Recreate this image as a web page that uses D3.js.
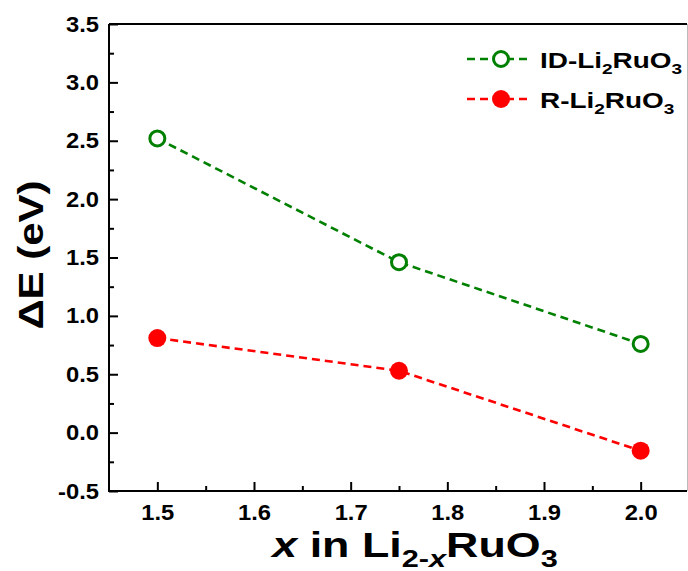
<!DOCTYPE html>
<html><head><meta charset="utf-8">
<script src="https://cdn.jsdelivr.net/npm/d3@7/dist/d3.min.js"></script>
<style>body{margin:0;background:#fff}svg{display:block}text{font-family:"Liberation Sans",Arial,sans-serif;font-weight:bold;fill:#000}</style>
</head><body><svg id="c" width="688" height="571"></svg>
<script>
const xValues = [1.5, 1.75, 2.0];
const idValues = [2.52, 1.46, 0.76];
const rValues = [0.81, 0.53, -0.155];
const xTicks = [1.5, 1.6, 1.7, 1.8, 1.9, 2.0];
const yTicks = [-0.5, 0.0, 0.5, 1.0, 1.5, 2.0, 2.5, 3.0, 3.5];
const seriesNames = ["ID-Li", "R-Li"];

const svg = d3.select("#c");
const L = 109, R = 689, T = 24, B = 491;
const x = d3.scaleLinear().domain([1.45, 2.05]).range([L, R]);
const y = d3.scaleLinear().domain([-0.5, 3.5]).range([B, T]);
const SX = 1.08; // horizontal glyph stretch of the reference font

// frame
svg.append("path").attr("d", `M${L},${T}H687M${L},${T}V${B}H687`).attr("fill","none").attr("stroke","#000").attr("stroke-width",2);
svg.append("line").attr("x1",687.5).attr("x2",687.5).attr("y1",T).attr("y2",B).attr("stroke","#bbb").attr("stroke-width",1);

const xMinor = [1.55, 1.65, 1.75, 1.85, 1.95];
const yMinor = [-0.25, 0.25, 0.75, 1.25, 1.75, 2.25, 2.75, 3.25];

const xAxis = svg.append("g").attr("transform",`translate(0,${B})`)
  .call(d3.axisBottom(x).tickValues(xTicks).tickFormat(d3.format(".1f")).tickSize(-9).tickPadding(13));
xAxis.select(".domain").remove();
xAxis.selectAll("line").attr("stroke-width",2);
xAxis.selectAll("text").attr("font-size",22).attr("font-family","Liberation Sans").attr("font-weight","bold").attr("fill","#000")
  .attr("transform",`scale(${SX},1)`);
svg.append("g").attr("transform",`translate(0,${B})`)
  .call(d3.axisBottom(x).tickValues(xMinor).tickFormat("").tickSize(-5))
  .call(g=>{g.select(".domain").remove();g.selectAll("line").attr("stroke-width",2);});

const yAxis = svg.append("g").attr("transform",`translate(${L},0)`)
  .call(d3.axisLeft(y).tickValues(yTicks).tickFormat(d3.format(".1f")).tickSize(-9).tickPadding(10));
yAxis.select(".domain").remove();
yAxis.selectAll("line").attr("stroke-width",2);
yAxis.selectAll("text").attr("font-size",22).attr("font-family","Liberation Sans").attr("font-weight","bold").attr("fill","#000")
  .text(d=>d<0 ? "-"+Math.abs(d).toFixed(1) : d.toFixed(1))
  .attr("x",-10/SX).attr("transform",`scale(${SX},1)`);
svg.append("g").attr("transform",`translate(${L},0)`)
  .call(d3.axisLeft(y).tickValues(yMinor).tickFormat("").tickSize(-5))
  .call(g=>{g.select(".domain").remove();g.selectAll("line").attr("stroke-width",2);});

// series
const green = "#008000", red = "#ff0000";
const line = d3.line().x(d=>x(d[0])).y(d=>y(d[1]));
const idData = xValues.map((v,i)=>[v,idValues[i]]);
const rData = xValues.map((v,i)=>[v,rValues[i]]);
svg.append("path").datum(idData).attr("d",line).attr("fill","none").attr("stroke",green).attr("stroke-width",2.6).attr("stroke-dasharray","8,5");
svg.append("path").datum(rData).attr("d",line).attr("fill","none").attr("stroke",red).attr("stroke-width",2.6).attr("stroke-dasharray","8,5");
svg.selectAll(".pid").data(idData).join("circle").attr("cx",d=>x(d[0])).attr("cy",d=>y(d[1])).attr("r",7.5)
  .attr("fill","#fff").attr("stroke",green).attr("stroke-width",3);
svg.selectAll(".pr").data(rData).join("circle").attr("cx",d=>x(d[0])).attr("cy",d=>y(d[1])).attr("r",9).attr("fill",red);

// legend
const legY = [59, 99];
[[green,true],[red,false]].forEach(([c,open],i)=>{
  svg.append("line").attr("x1",467).attr("x2",532).attr("y1",legY[i]).attr("y2",legY[i]).attr("stroke",c).attr("stroke-width",2.6).attr("stroke-dasharray","8,5");
  const m = svg.append("circle").attr("cx",501).attr("cy",legY[i]);
  if(open) m.attr("r",7.5).attr("fill","#fff").attr("stroke",c).attr("stroke-width",3);
  else m.attr("r",9).attr("fill",c);
  const g = svg.append("g").attr("transform",`translate(540,${legY[i]+9}) scale(1.27,1)`);
  const t = g.append("text").attr("font-size",22);
  t.append("tspan").text(seriesNames[i]);
  t.append("tspan").attr("font-size",15).attr("dy",6).text("2");
  t.append("tspan").attr("dy",-6).text("RuO");
  t.append("tspan").attr("font-size",15).attr("dy",6).text("3");
});

// axis titles
const xg = svg.append("g").attr("transform","translate(415,557) scale(1.28,1)");
const xt = xg.append("text").attr("text-anchor","middle").attr("font-size",35);
xt.append("tspan").attr("font-style","italic").text("x");
xt.append("tspan").text(" in Li");
xt.append("tspan").attr("font-size",24).attr("dy",10).text("2-");
xt.append("tspan").attr("font-size",24).attr("font-style","italic").text("x");
xt.append("tspan").attr("dy",-10).text("RuO");
xt.append("tspan").attr("font-size",24).attr("dy",10).text("3");

svg.append("g").attr("transform","translate(43,255) rotate(-90) scale(1.2,1)")
  .append("text").attr("text-anchor","middle").attr("font-size",35).text("ΔE (eV)");
</script></body></html>
